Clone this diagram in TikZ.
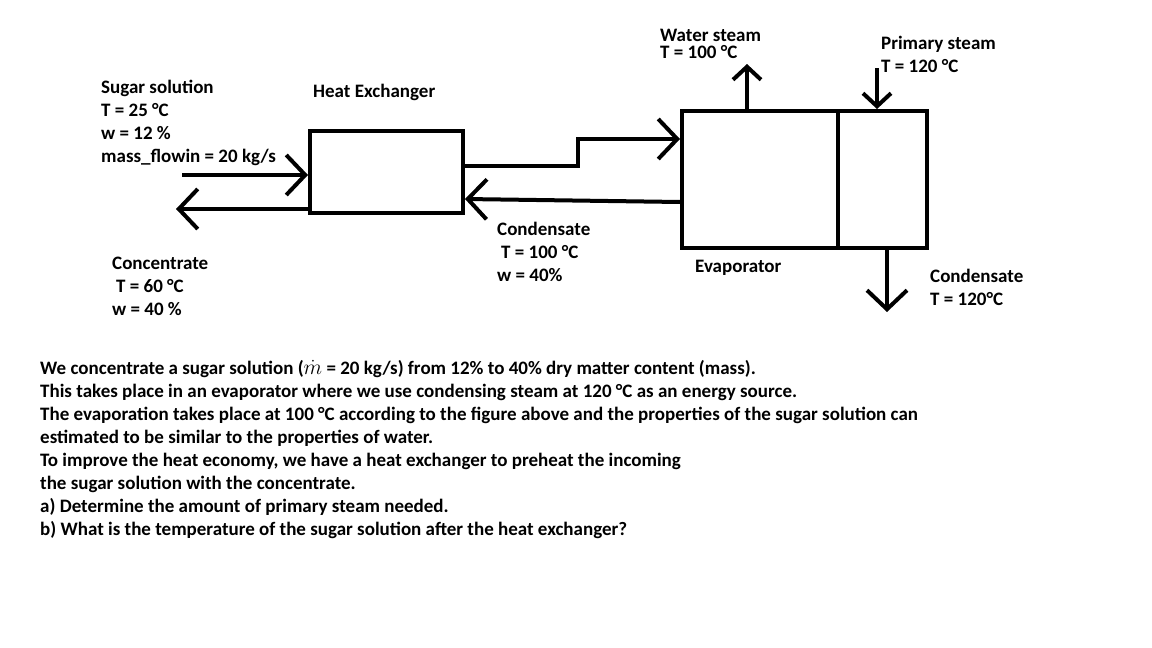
\documentclass[tikz,border=0pt]{standalone}
\usepackage{graphicx}
\usepackage{fontspec}
\setmainfont{Carlito}
\usetikzlibrary{arrows.meta,positioning}
\tikzset{
  unit/.style={draw, line width=4pt, inner sep=0pt},
  lbl/.style={font=\fontsize{19}{23}\selectfont\bfseries, align=left, anchor=base west, inner sep=0pt},
  flw/.style={line width=4pt, -{Straight Barb[length=19pt,width=40pt]}},
  vnt/.style={line width=4pt, -{Straight Barb[length=13pt,width=28pt]}},
}

\begin{document}
\begin{tikzpicture}[x=1pt,y=-1pt]
\useasboundingbox[fill=white] (0,0) rectangle (1152,648);
\node[unit, minimum width=153pt, minimum height=82pt] (hx) at (386.5,172) {};
\node[unit, minimum width=156pt, minimum height=137pt] (evap) at (760,179.5) {};
\node[unit, minimum width=89pt, minimum height=137pt] (jacket) at (882.5,179.5) {};
\coordinate (feedin) at (182,175);
\coordinate (concout) at (176,209);
\coordinate (kink) at (578,139);
\coordinate (vapour) at (747,64);
\coordinate (steamin) at (877,68);
\coordinate (condout) at (887,312);
\draw[flw] (feedin) -- (hx.west |- feedin);
\draw[flw] (hx.west |- concout) -- (concout);
\draw[flw] (hx.east |- 0,166) -| (kink) -- (evap.west |- kink);
\draw[flw] (evap.west |- 0,202) -- (hx.east |- 0,199);
\draw[vnt] (vapour |- evap.north) -- (vapour);
\draw[vnt] (steamin) -- (steamin |- jacket.north);
\draw[flw] (condout |- jacket.south) -- (condout);
\node[lbl] (feedlbl) at (101,162) {Sugar solution\\T = 25 °C\\w = 12 \%\\mass\_flowin = 20 kg/s};
\node[lbl] (hxlbl) at (313,97) {Heat Exchanger};
\node[lbl, font=\fontsize{19}{17}\selectfont\bfseries] (vaplbl) at (660,58) {Water steam\\T = 100 °C};
\node[lbl] (steamlbl) at (881,72) {Primary steam\\T = 120 °C};
\node[lbl] (backlbl) at (497,281) {Condensate\\\hspace*{4pt}T = 100 °C\\w = 40\%};
\node[lbl] (evaplbl) at (695,272) {Evaporator};
\node[lbl] (conclbl) at (112,315) {Concentrate\\\hspace*{4pt}T = 60 °C\\w = 40 \%};
\node[lbl] (condlbl) at (930,305) {Condensate\\T = 120°C};
\node[lbl] (task) at (40,535) {We concentrate a sugar solution (\scalebox{1.25}{$\dot{m}$} = 20 kg/s) from 12\% to 40\% dry matter content (mass).\\
This takes place in an evaporator where we use condensing steam at 120 °C as an energy source.\\
The evaporation takes place at 100 °C according to the figure above and the properties of the sugar solution can\\
estimated to be similar to the properties of water.\\
To improve the heat economy, we have a heat exchanger to preheat the incoming\\
the sugar solution with the concentrate.\\
a) Determine the amount of primary steam needed.\\
b) What is the temperature of the sugar solution after the heat exchanger?};
\end{tikzpicture}
\end{document}
